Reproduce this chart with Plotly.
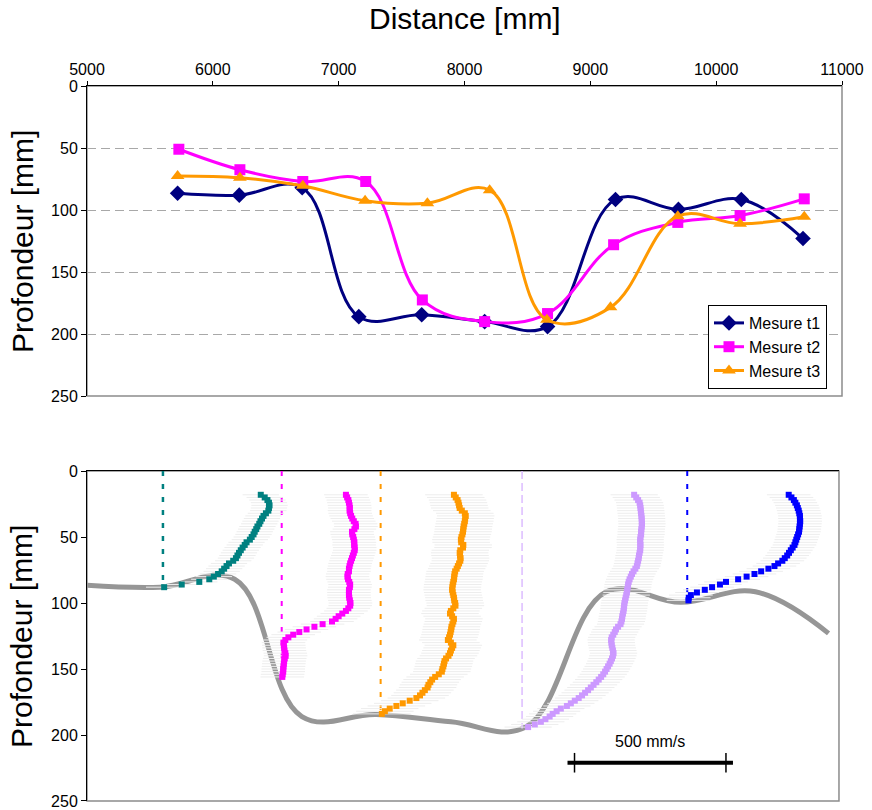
import plotly.graph_objects as go

# ---------------------------------------------------------------
# Bed profiles: distance along the channel [mm] and depth [mm]
# ---------------------------------------------------------------
x_t1 = [5720, 6210, 6710, 7160, 7660, 8160, 8660, 9200, 9700, 10200, 10690]
d_t1 = [86.5, 88, 82, 186, 184.5, 190, 194, 91.5, 99.5, 91.5, 123]

x_t2 = [5730, 6215, 6715, 7215, 7665, 8160, 8660, 9185, 9695, 10190, 10700]
d_t2 = [51, 67.5, 77, 77, 172.5, 190, 183.5, 128, 110, 104.5, 91]

x_t3 = [5720, 6215, 6715, 7210, 7705, 8200, 8655, 9160, 9695, 10190, 10700]
d_t3 = [72.5, 74, 80.5, 92.5, 94.5, 84, 188.5, 178.5, 105, 111, 105.5]

series_names = ["Mesure t1", "Mesure t2", "Mesure t3"]
x_ticks = [5000, 6000, 7000, 8000, 9000, 10000, 11000]
x_tick_text = ["5000", "6000", "7000", "8000", "9000", "10000", "11000"]
y_ticks = [0, 50, 100, 150, 200, 250]
y_tick_text = ["0", "50", "100", "150", "200", "250"]

# ---------------------------------------------------------------
# Velocity profiles [mm/s] measured at several stations
# ---------------------------------------------------------------
teal_pos, teal_bed, teal_err = 6229, 88, 60
teal_depth = [18, 20, 22, 24, 26, 28, 30, 32, 34, 36, 38, 40, 42, 44, 46, 48, 50, 52,
              54, 56, 58, 60, 62, 64, 66, 68, 70, 72, 74, 76, 78, 80, 82, 84, 86, 88]
teal_vel = [323, 336, 345, 350, 352, 350, 348, 340, 332, 327, 322, 318, 312, 308, 303, 299, 293, 287,
            276, 270, 263, 257, 251, 246, 241, 232, 218, 210, 202, 194, 182, 168, 153, 120, 62, 4]

mag_pos, mag_bed, mag_err = 7025, 157, 72
mag_depth = [18, 20, 22, 24, 26, 28, 30, 32, 34, 36, 38, 40, 42, 44, 46, 48, 50, 52, 54, 56,
             58, 60, 62, 64, 66, 68, 70, 72, 74, 76, 78, 80, 82, 84, 86, 88, 90, 92, 94, 96,
             98, 100, 102, 104, 106, 108, 110, 112, 114, 116, 118, 120, 122, 124, 126, 128,
             130, 132, 134, 136, 138, 140, 142, 144, 146, 148, 150, 152, 154, 156]
mag_vel = [212, 216, 220, 222, 224, 225, 224, 226, 229, 233, 238, 244, 245, 240, 232, 233, 236, 238, 240, 239,
           241, 241, 238, 235, 232, 229, 226, 224, 222, 222, 218, 217, 219, 223, 226, 225, 222, 222, 222, 223,
           225, 227, 226, 220, 212, 200, 188, 178, 166, 135, 108, 82, 58, 38, 22, 12,
           6, 7, 8, 9, 12, 13, 10, 8, 7, 6, 5, 5, 3, 2]

ora_pos, ora_bed, ora_err = 7688, 184, 95
ora_depth = [18, 20, 22, 24, 26, 28, 30, 32, 34, 36, 38, 40, 42, 44, 46, 48, 50, 52, 54, 56,
             58, 60, 62, 64, 66, 68, 70, 72, 74, 76, 78, 80, 82, 84, 86, 88, 90, 92, 94, 96,
             98, 100, 102, 104, 106, 108, 110, 112, 114, 116, 118, 120, 122, 124, 126, 128,
             130, 132, 134, 136, 138, 140, 142, 144, 146, 148, 150, 152, 154, 156, 158, 160,
             162, 164, 166, 168, 170, 172, 174, 176, 178, 180, 182, 184]
ora_vel = [242, 248, 254, 257, 259, 261, 268, 278, 281, 279, 278, 276, 274, 273, 272, 270, 267, 265, 266, 273,
           272, 263, 261, 262, 264, 263, 259, 255, 251, 246, 244, 243, 242, 240, 238, 237, 236, 238, 240, 242,
           243, 246, 247, 240, 232, 229, 236, 242, 240, 237, 234, 233, 231, 229, 226, 222,
           232, 240, 236, 232, 229, 224, 216, 211, 209, 207, 204, 202, 192, 180, 170, 164,
           158, 155, 146, 138, 130, 118, 96, 73, 52, 30, 14, 4]

lav_pos, lav_bed, lav_err = 8636, 195, 78
lav_depth = [18, 20, 22, 24, 26, 28, 30, 32, 34, 36, 38, 40, 42, 44, 46, 48, 50, 52, 54, 56,
             58, 60, 62, 64, 66, 68, 70, 72, 74, 76, 78, 80, 82, 84, 86, 88, 90, 92, 94, 96,
             98, 100, 102, 104, 106, 108, 110, 112, 114, 116, 118, 120, 122, 124, 126, 128,
             130, 132, 134, 136, 138, 140, 142, 144, 146, 148, 150, 152, 154, 156, 158, 160,
             162, 164, 166, 168, 170, 172, 174, 176, 178, 180, 182, 184, 186, 188, 190, 192, 194]
lav_vel = [370, 377, 383, 388, 390, 391, 392, 393, 394, 395, 395, 396, 395, 394, 393, 393, 391, 390, 390, 391,
           390, 390, 388, 386, 385, 383, 381, 379, 374, 368, 363, 359, 355, 352, 350, 349, 347, 346, 344, 342,
           340, 338, 337, 336, 335, 333, 331, 330, 328, 325, 317, 310, 306, 301, 296, 294,
           295, 296, 298, 300, 302, 300, 297, 293, 289, 284, 279, 274, 268, 261, 253, 245,
           236, 227, 218, 208, 198, 187, 174, 161, 148, 128, 114, 101, 91, 77, 62, 42, 20]

blu_pos, blu_bed, blu_err = 9743, 99, 72
blu_depth = [18, 20, 22, 24, 26, 28, 30, 32, 34, 36, 38, 40, 42, 44, 46, 48, 50, 52, 54, 56,
             58, 60, 62, 64, 66, 68, 70, 72, 74, 76, 78, 80, 82, 84, 86, 88, 90, 92, 94, 96, 98]
blu_vel = [335, 344, 352, 357, 362, 365, 368, 370, 372, 372, 373, 372, 371, 370, 369, 366, 363, 360, 357, 354,
           348, 342, 336, 330, 322, 314, 300, 288, 268, 244, 222, 196, 168, 128, 108, 82, 58, 32, 12, 5, 4]

# Velocity scale: mm of distance drawn per mm/s of velocity
VEL_SCALE = 2.03
scale_vel = 500
scale_label = "500 mm/s"
scale_center, scale_depth = 9495, 221

FONT = "Liberation Sans, Arial, sans-serif"

fig = go.Figure()

# ---------------- upper panel: bed profiles ----------------
styles = [
    (x_t1, d_t1, "#000080", "diamond", 12),
    (x_t2, d_t2, "#ff00ff", "square", 11),
    (x_t3, d_t3, "#ff9900", "triangle-up", 12),
]
for name, (xs, ds, col, sym, sz) in zip(series_names, styles):
    fig.add_trace(go.Scatter(
        x=xs, y=ds, name=name, mode="lines+markers",
        line=dict(color=col, width=3, shape="spline", smoothing=1.1),
        marker=dict(symbol=sym, size=sz, color=col),
        xaxis="x", yaxis="y",
    ))

# ---------------- lower panel: bed line and velocity profiles ----------------
fig.add_trace(go.Scatter(
    x=x_t1, y=d_t1, mode="lines", showlegend=False, hoverinfo="skip",
    line=dict(color="#969696", width=5, shape="spline", smoothing=1.1),
    xaxis="x2", yaxis="y2",
))

# (station, bed depth, spread, depths, velocities, marker colour, station-line colour, dash, width, marker size)
profiles = [
    (teal_pos, teal_bed, teal_err, teal_depth, teal_vel, "#008080", "#008080", "5px,8px", 2.5, 6),
    (mag_pos, mag_bed, mag_err, mag_depth, mag_vel, "#ff00ff", "#ff00ff", "5px,8px", 2.0, 6),
    (ora_pos, ora_bed, ora_err, ora_depth, ora_vel, "#ff9900", "#ff9900", "5px,8px", 2.0, 6),
    (lav_pos, lav_bed, lav_err, lav_depth, lav_vel, "#cc99ff", "#dcbcff", "8px,4px", 1.5, 6),
    (blu_pos, blu_bed, blu_err, blu_depth, blu_vel, "#0000ff", "#0000ff", "5px,8px", 2.0, 6),
]

# station lines
for pos, bed, err, dep, vel, col, lcol, dash, lw, ms in profiles:
    fig.add_trace(go.Scatter(
        x=[pos, pos], y=[0, bed], mode="lines", showlegend=False, hoverinfo="skip",
        line=dict(color=lcol, width=lw, dash=dash),
        xaxis="x2", yaxis="y2",
    ))

# measured velocities with their spread
for pos, bed, err, dep, vel, col, lcol, dash, lw, ms in profiles:
    fig.add_trace(go.Scatter(
        x=[pos + VEL_SCALE * v for v in vel], y=dep, mode="markers", showlegend=False,
        marker=dict(symbol="square", size=ms, color=col, line=dict(width=0)),
        error_x=dict(type="constant", value=VEL_SCALE * err, color="#ededed",
                     thickness=1, width=0),
        xaxis="x2", yaxis="y2",
    ))

# velocity scale bar
half = VEL_SCALE * scale_vel / 2
overhang = 47
fig.add_trace(go.Scatter(
    x=[scale_center - half - overhang, scale_center + half + overhang],
    y=[scale_depth, scale_depth], mode="lines", showlegend=False, hoverinfo="skip",
    line=dict(color="black", width=4), xaxis="x2", yaxis="y2",
))
fig.add_trace(go.Scatter(
    x=[scale_center - half, scale_center + half], y=[scale_depth, scale_depth],
    mode="markers", showlegend=False, hoverinfo="skip",
    marker=dict(symbol="line-ns", size=14, line=dict(color="black", width=1.5)),
    xaxis="x2", yaxis="y2",
))

top_dom = [0.5664, 1.0]
bot_dom = [0.0, 0.4615]

axis_common = dict(showline=True, linecolor="black", linewidth=1, zeroline=False,
                   automargin=False,
                   tickfont=dict(size=16, family=FONT, color="black"))

fig.update_layout(
    width=872, height=810,
    margin=dict(l=87, r=30, t=86, b=9, autoexpand=False),
    paper_bgcolor="white", plot_bgcolor="white",
    font=dict(family=FONT, size=16, color="black"),
    xaxis=dict(domain=[0, 1], anchor="y", side="top", range=[5000, 11000],
               tickvals=x_ticks, ticktext=x_tick_text, ticks="outside", ticklen=4,
               tickcolor="black", showgrid=False, **axis_common),
    yaxis=dict(domain=top_dom, anchor="x", range=[250, 0], tickvals=y_ticks,
               ticktext=y_tick_text, ticks="outside", ticklen=5, tickcolor="black",
               showgrid=True, gridcolor="#a8a8a8", gridwidth=1, griddash="9px,5px",
               **axis_common),
    xaxis2=dict(domain=[0, 0.996], anchor="y2", side="top", range=[5720, 10760],
                showticklabels=False, ticks="", showgrid=False, **axis_common),
    yaxis2=dict(domain=bot_dom, anchor="x2", range=[250, 0], tickvals=y_ticks,
                ticktext=y_tick_text, ticks="outside", ticklen=5, tickcolor="black",
                showgrid=False, **axis_common),
    legend=dict(x=0.8225, y=0.6937, xanchor="left", yanchor="top",
                bgcolor="white", bordercolor="black", borderwidth=1,
                font=dict(size=16, family=FONT), tracegroupgap=0),
    showlegend=True,
)

# grey frame on the open sides of each panel
for xr, yr in (("x domain", "y domain"), ("x2 domain", "y2 domain")):
    fig.add_shape(type="rect", xref=xr, yref=yr, x0=0, x1=1, y0=0, y1=1,
                  line=dict(color="#8c8c8c", width=1.5), layer="below")

# titles
fig.add_annotation(text="Distance [mm]", xref="paper", yref="paper", x=0.5007, y=1.095,
                   showarrow=False, font=dict(size=30, family=FONT),
                   xanchor="center", yanchor="middle")
for yc in (0.7832, 0.2308):
    fig.add_annotation(text="Profondeur [mm]", xref="paper", yref="paper", x=-0.0861, y=yc,
                       showarrow=False, textangle=-90, font=dict(size=30, family=FONT),
                       xanchor="center", yanchor="middle")

fig.add_annotation(text=scale_label, xref="x2", yref="y2", x=scale_center, y=scale_depth - 8,
                   showarrow=False, font=dict(size=16, family=FONT),
                   xanchor="center", yanchor="bottom")

fig.write_html("out.html")
